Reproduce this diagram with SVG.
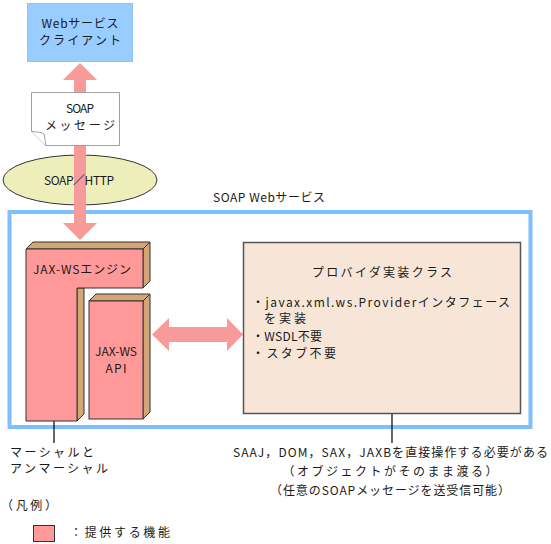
<svg xmlns="http://www.w3.org/2000/svg" width="551" height="544" viewBox="0 0 551 544">
<style>
text{font-family:"Noto Sans CJK JP","Noto Sans",sans-serif;font-size:12px;fill:#1a1a1a}
.m{text-anchor:middle}
.front{fill:#FF9999;stroke:#333;stroke-width:1}
.side{fill:#D4A676;stroke:#333;stroke-width:1}
.arrow{fill:#F99A9A;stroke:none}
.lead{stroke:#000;stroke-width:1.2;fill:none}
</style>
<rect width="551" height="544" fill="#fff"/>

<g id="soap-webservice">
<rect x="9.5" y="212" width="521" height="215" fill="none" stroke="#80BFFF" stroke-width="4"/>
<text x="213" y="202" textLength="112" lengthAdjust="spacing">SOAP Webサービス</text>
</g>

<g id="webservice-client">
<rect x="27.5" y="3.5" width="105" height="58" fill="#99CCFF" stroke="#8CC6FF" stroke-width="1"/>
<text class="m" x="80" y="28" textLength="77" lengthAdjust="spacing">Webサービス</text>
<text class="m" x="80" y="45" textLength="82" lengthAdjust="spacing">クライアント</text>
</g>

<g id="soap-http">
<ellipse cx="80" cy="180" rx="77" ry="25" fill="#EEEEBB" stroke="#333" stroke-width="1"/>
</g>

<g id="connectors">
<polygon class="arrow" points="80,63 97,80 86,80 86,223 97,223 80,240 63,223 74,223 74,80 63,80"/>
<polygon class="arrow" points="152,334.5 169,318 169,327 227,327 227,318 243,334.5 227,351 227,342 169,342 169,351"/>
<line class="lead" x1="54" y1="388" x2="54" y2="443"/>
<circle cx="54" cy="388" r="3" fill="#000"/>
<line class="lead" x1="392" y1="388" x2="392" y2="443"/>
<circle cx="392" cy="388" r="3" fill="#000"/>
</g>

<g id="soap-http-label">
<text class="m" x="79" y="185" textLength="70" lengthAdjust="spacing">SOAP／HTTP</text>
</g>

<g id="soap-message">
<path d="M31.5,92.5 H119.5 V145.5 H45.5 L31.5,131.5 Z" fill="#fff" stroke="#A0A0A0" stroke-width="1"/>
<path d="M31.5,131.5 Q42,132 44,134 Q45.5,139 45.5,145.5" fill="#fff" stroke="#A0A0A0" stroke-width="1"/>
<text class="m" x="80" y="113" textLength="28" lengthAdjust="spacing">SOAP</text>
<text class="m" x="80" y="130" textLength="70" lengthAdjust="spacing">メッセージ</text>
</g>

<g id="jaxws-engine">
<polygon class="side" points="26,249 33,242 150,242 143,249"/>
<polygon class="side" points="143,249 150,242 150,281 143,288"/>
<polygon class="side" points="77,288 84,288 84,414 77,421"/>
<polygon class="front" points="26,249 143,249 143,288 77,288 77,421 26,421"/>
<text x="33" y="274" textLength="98" lengthAdjust="spacing">JAX-WSエンジン</text>
</g>

<g id="jaxws-api">
<polygon class="side" points="89,301 96,294 150,294 143,301"/>
<polygon class="side" points="143,301 150,294 150,412 143,419"/>
<rect class="front" x="89" y="301" width="54" height="118"/>
<text class="m" x="116" y="356" textLength="42" lengthAdjust="spacing">JAX-WS</text>
<text class="m" x="116" y="373" textLength="21" lengthAdjust="spacing">API</text>
</g>

<g id="provider-class">
<rect x="243.5" y="242.5" width="277" height="171" fill="#F7E6D8" stroke="#555" stroke-width="1.5"/>
<text class="m" x="382" y="277" textLength="140" lengthAdjust="spacing">プロバイダ実装クラス</text>
<text x="252" y="307" textLength="258" lengthAdjust="spacing">・javax.xml.ws.Providerインタフェース</text>
<text x="264" y="323" textLength="42" lengthAdjust="spacing">を実装</text>
<text x="252" y="341" textLength="70" lengthAdjust="spacing">・WSDL不要</text>
<text x="252" y="358" textLength="84" lengthAdjust="spacing">・スタブ不要</text>
</g>

<g id="note-marshal">
<text x="10" y="457" textLength="84" lengthAdjust="spacing">マーシャルと</text>
<text x="10" y="473" textLength="98" lengthAdjust="spacing">アンマーシャル</text>
</g>

<g id="note-provider">
<text x="233" y="457" textLength="315" lengthAdjust="spacing">SAAJ，DOM，SAX，JAXBを直接操作する必要がある</text>
<text class="m" x="390" y="476" textLength="215" lengthAdjust="spacing">（オブジェクトがそのまま渡る）</text>
<text class="m" x="390" y="495" textLength="240" lengthAdjust="spacing">（任意のSOAPメッセージを送受信可能）</text>
</g>

<g id="legend">
<text x="1" y="510" textLength="56" lengthAdjust="spacing">（凡例）</text>
<rect x="33.5" y="525.5" width="21" height="16" fill="#FF9999" stroke="#333" stroke-width="1"/>
<text x="70" y="537" textLength="100" lengthAdjust="spacing">：提供する機能</text>
</g>
</svg>
